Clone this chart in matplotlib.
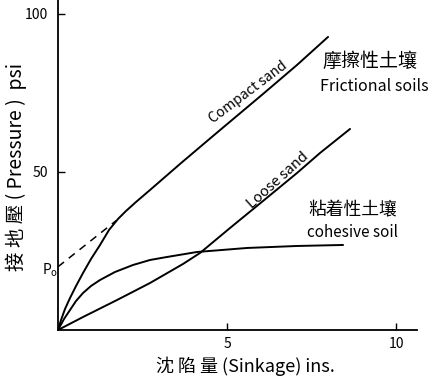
import matplotlib
matplotlib.use("Agg")
import matplotlib.pyplot as plt

plt.rcParams['font.family'] = ['Noto Sans CJK TC', 'DejaVu Sans']

# pressure-sinkage curves (sinkage in ins, pressure in psi)
compact_x = [0, 0.089, 0.207, 0.355, 0.533, 0.740, 0.976, 1.243, 1.509, 1.775,
             2.012, 2.308, 2.722, 3.609, 4.586, 6.065, 7.071, 7.988]
compact_y = [0, 3.16, 6.65, 10.13, 13.92, 18.04, 22.47, 26.90, 31.65, 35.13,
             37.66, 40.51, 44.30, 52.53, 61.39, 74.68, 83.86, 92.72]

loose_x = [0, 0.740, 1.746, 2.722, 3.698, 4.201, 5.089, 6.065, 7.071, 7.751, 8.639]
loose_y = [0, 4.11, 9.49, 14.87, 20.89, 24.37, 32.28, 40.82, 49.68, 56.01, 63.61]

cohesive_x = [0, 0.178, 0.355, 0.533, 0.740, 0.976, 1.243, 1.686, 2.219, 2.722,
              3.225, 4.112, 5.592, 7.071, 8.432]
cohesive_y = [0, 3.48, 6.33, 9.18, 11.71, 13.92, 15.82, 18.35, 20.57, 22.15,
              23.10, 24.68, 25.95, 26.58, 26.90]

# tangent of compact sand extended back to the pressure axis (p0)
p0_x = [0, 1.72]
p0_y = [20, 34.6]

xticks = [5, 10]
yticks = [50, 100]

fig = plt.figure(figsize=(4.31, 3.87), dpi=100)
ax = fig.add_axes([0.1346, 0.1473, 0.833, 0.8527])

line_kw = dict(color='black', lw=1.4, solid_joinstyle='round', solid_capstyle='round')
ax.plot(compact_x, compact_y, **line_kw)
ax.plot(loose_x, loose_y, **line_kw)
ax.plot(cohesive_x, cohesive_y, **line_kw)
ax.plot(p0_x, p0_y, color='black', lw=1.1, ls=(0, (5, 4)))

ax.set_xlim(0, 10.62)
ax.set_ylim(0, 104.4)
ax.spines['top'].set_visible(False)
ax.spines['right'].set_visible(False)
for s in ['left', 'bottom']:
    ax.spines[s].set_linewidth(1.3)

ax.set_xticks(xticks)
ax.set_yticks(yticks)
ax.tick_params(direction='in', length=5, width=1, labelsize=10, pad=5)
ax.tick_params(axis='y', pad=7)

ax.text(-0.24, 19, 'P$_\\mathregular{o}$', fontsize=10, ha='center', va='center',
        clip_on=False)

ax.text(5.62, 75.3, 'Compact sand', fontsize=10, rotation=37,
        ha='center', va='center', rotation_mode='anchor')
ax.text(6.51, 47.5, 'Loose sand', fontsize=10.5, rotation=42,
        ha='center', va='center', rotation_mode='anchor')

ax.text(7.81, 84.8, '摩擦性土壤', fontsize=13.7, ha='left', va='center')
ax.text(7.75, 76.9, 'Frictional soils', fontsize=11.5, ha='left', va='center',
        clip_on=False)
ax.text(7.40, 38.0, '粘着性土壤', fontsize=12.8, ha='left', va='center')
ax.text(7.37, 30.7, 'cohesive soil', fontsize=11, ha='left', va='center')

fig.text(16 / 431, 1 - 167 / 387, '接 地 壓 ( Pressure )  psi', rotation=90,
         fontsize=14, ha='center', va='center')
fig.text(245 / 431, 1 - 366 / 387, '沈 陷 量 (Sinkage) ins.', fontsize=13,
         ha='center', va='center')

fig.savefig('out.png', dpi=100)
